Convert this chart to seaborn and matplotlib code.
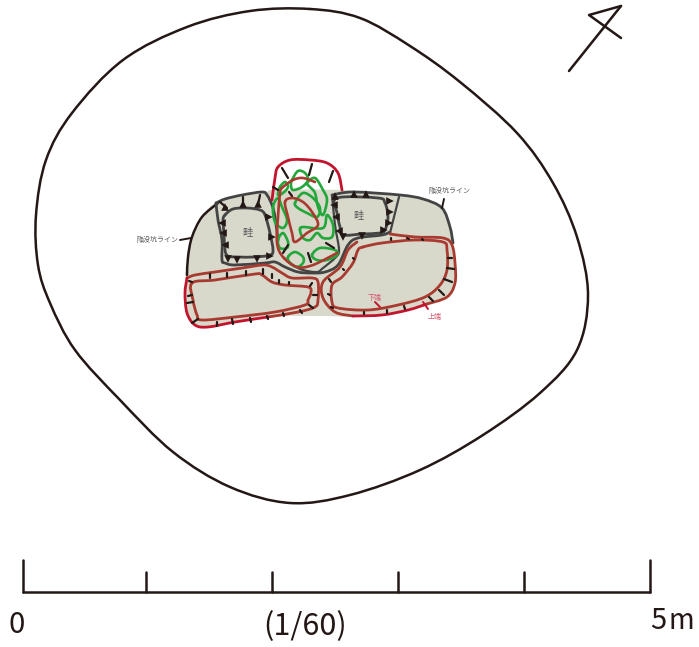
import matplotlib
matplotlib.use("Agg")
import matplotlib.pyplot as plt
from matplotlib.patches import PathPatch
from matplotlib.path import Path
import numpy as np
import pandas as pd
import seaborn as sns

sns.set_style("white")
plt.rcParams['font.family'] = ['Noto Sans CJK JP', 'DejaVu Sans']

BLACK = '#231815'
DARK = '#444444'
CRIMSON = '#c2142d'
BRICK = '#a93a30'
GREEN = '#22a83a'
FILL = '#d8d8cb'
LABEL = '#5a5a5a'
PINK = '#d4506a'

# outlines, picture pixels
outer_pit = [(310, 9), (360, 18), (410, 46), (460, 82), (517, 133), (553, 183), (577, 237), (588, 295),
             (577, 350), (540, 393), (483, 435), (420, 470), (350, 495), (290, 503), (230, 487),
             (173, 452), (120, 400), (75, 350), (50, 303), (38, 265), (36, 215), (46, 160), (72, 113), (123, 60),
             (187, 27), (250, 11)]
floor_area = [(186, 290), (186, 270), (192, 240), (205, 215), (218, 202), (265, 192), (275, 190), (342, 190),
              (400, 195), (423, 199), (442, 208), (450, 227), (455, 263), (455, 283), (447, 297), (430, 303),
              (382, 315), (358, 317), (320, 316), (268, 317), (208, 327), (195, 325), (187, 313)]
left_edge = [(218, 203), (202, 217), (192, 237), (188, 257), (187, 275)]
left_bank_outer = [(216, 203), (225, 199), (242, 195), (262, 192), (267, 195), (272, 205), (275, 217), (278, 240),
                   (283, 257), (293, 265), (303, 270), (317, 272), (323, 268), (335, 258), (339, 250), (335, 225),
                   (332, 195)]
left_bank_low = [(216, 203), (218, 220), (222, 240), (222, 260), (225, 263), (235, 265), (265, 263), (275, 262),
                 (285, 267), (298, 272), (312, 273), (325, 272), (338, 265), (348, 245), (358, 238), (382, 235),
                 (390, 232)]
left_bank_inner = [(225, 215), (233, 209), (247, 208), (260, 210), (265, 215), (270, 233), (273, 250), (270, 255),
                   (255, 257), (238, 257), (228, 256), (225, 250), (224, 233), (223, 220)]
right_bank_outer = [(332, 195), (353, 192), (400, 195), (423, 199), (442, 208), (450, 227), (453, 243)]
right_bank_inner = [(337, 198), (378, 198), (385, 203), (388, 217), (385, 230), (380, 233), (362, 234), (343, 235),
                    (340, 227), (337, 213)]
divider = [(399, 197), (394, 217), (390, 233)]

top_arc = [(272, 200), (275, 178), (278, 167), (290, 160), (310, 160), (327, 163), (338, 173), (342, 190)]
centre_red = [(315, 182), (303, 178), (293, 180), (282, 188), (280, 193), (278, 217), (277, 243), (283, 257),
              (297, 267), (313, 265), (337, 253)]
inner_red = [(285, 202), (292, 198), (303, 202), (312, 212), (318, 225), (307, 233), (295, 242), (292, 233),
             (288, 217)]

low_left_outer_top = [(187, 278), (195, 275), (215, 272), (242, 268), (263, 265), (272, 267), (282, 273), (292, 278),
                      (312, 278), (318, 282), (318, 300), (315, 307), (298, 312), (268, 317)]
low_left_outer_bot = [(268, 317), (235, 322), (208, 327), (195, 325), (187, 313), (185, 293), (187, 278)]
low_left_inner = [(192, 283), (215, 280), (255, 274), (262, 275), (272, 282), (285, 285), (308, 287), (311, 292),
                  (308, 300), (305, 305), (275, 312), (235, 317), (202, 320), (197, 315), (193, 300)]
low_right_outer_a = [(357, 242), (348, 250), (340, 267), (323, 282), (323, 298), (335, 312), (353, 316)]
low_right_outer_bot = [(353, 316), (382, 315), (408, 310), (427, 304)]
low_right_outer_b = [(427, 304), (447, 297), (455, 283), (455, 263), (452, 245), (443, 238), (415, 237), (390, 234)]
low_right_inner = [(363, 247), (382, 243), (415, 240), (443, 242), (447, 250), (447, 270), (440, 285), (425, 297),
                   (398, 305), (368, 310), (338, 308), (332, 302), (332, 285), (342, 277), (353, 263), (358, 250)]

green_loops = [
    [(292, 180), (298, 171), (305, 173), (308, 180), (302, 187), (293, 190), (291, 185)],
    [(295, 203), (303, 193), (313, 198), (320, 208), (317, 217), (307, 213), (298, 208)],
    [(300, 230), (303, 227), (323, 228), (327, 215), (333, 225), (332, 237), (323, 238), (317, 233), (310, 240),
     (303, 238)],
    [(288, 257), (295, 252), (303, 257), (303, 263), (297, 267), (290, 263)],
    [(312, 255), (320, 248), (335, 250), (337, 255), (327, 260), (317, 260)],
    [(307, 183), (315, 178), (323, 190), (327, 200), (323, 215), (318, 207), (315, 193), (310, 187)],
    [(273, 207), (278, 198), (282, 207), (287, 220), (283, 228), (275, 222)],
    [(278, 240), (283, 233), (288, 242), (287, 248), (280, 248)],
    [(280, 187), (285, 182), (288, 187), (283, 193), (278, 195)],
]

# hachure strokes
hachure = [((210, 274), (210, 278)), ((227, 273), (227, 277)), ((246, 271), (246, 275)), ((263, 269), (263, 274)),
           ((272, 274), (272, 278)), ((279, 280), (279, 283)), ((289, 282), (289, 284)), ((312, 283), (310, 286)),
           ((313, 295), (317, 295)), ((309, 305), (313, 308)), ((300, 310), (302, 313)), ((283, 313), (284, 316)),
           ((267, 316), (268, 319)), ((250, 318), (251, 322)), ((232, 319), (233, 324)), ((217, 322), (217, 326)),
           ((192, 323), (198, 319)), ((187, 303), (193, 302)), ((188, 296), (192, 295)), ((189, 281), (192, 282)),
           ((391, 238), (391, 240)), ((407, 238), (409, 239)), ((422, 239), (423, 240)), ((448, 258), (452, 258)),
           ((447, 268), (454, 269)), ((444, 279), (452, 282)), ((439, 290), (444, 295)), ((429, 297), (433, 301)),
           ((404, 306), (405, 309)), ((387, 310), (387, 313)), ((364, 312), (364, 314)), ((328, 294), (330, 295)),
           ((331, 307), (333, 308)), ((329, 279), (331, 282)), ((343, 269), (344, 270)), ((353, 258), (354, 259)),
           ((282, 168), (288, 178)), ((312, 164), (309, 175)), ((333, 171), (329, 182)), ((289, 192), (292, 196)),
           ((273, 187), (278, 190)), ((326, 243), (334, 248)), ((308, 253), (311, 262)), ((288, 245), (283, 253)),
           ((220, 202), (227, 208)), ((243, 197), (243, 205)), ((260, 195), (258, 205))]

wedge_x = [225, 243, 258, 269, 272, 270, 257, 237, 228, 225, 223, 222, 354, 366, 335, 390, 390, 389, 384, 362, 343,
           339, 336, 334]
wedge_y = [207, 204, 204, 217, 237, 256, 259, 260, 259, 245, 233, 223, 194, 194, 196, 201, 212, 223, 230, 236, 237,
           231, 217, 205]
wedge_dir = ['d', 'd', 'd', 'l', 'l', 'l', 'u', 'u', 'u', 'r', 'r', 'r', 'd', 'd', 'd', 'l', 'l', 'l', 'l', 'u', 'u',
             'r', 'r', 'r']

scale_bar_x = [23, 650]
scale_bar_y = [592, 592]
scale_ticks = [23, 146, 272, 398, 524, 650]
scale_tops = [560, 572, 572, 572, 572, 560]

north_shaft = [(569, 71), (621, 6)]
north_head = [(621, 6), (589, 15), (621, 38)]
leaders = [((180, 240), (191, 238)), ((444, 199), (442, 208))]
red_leaders = [((375, 302), (380, 307)), ((423, 302), (428, 309))]


def draw_line(ax, pts, color, lw):
    df = pd.DataFrame(list(pts), columns=['x', 'y'])
    sns.lineplot(data=df, x='x', y='y', sort=False, estimator=None, color=color, linewidth=lw, ax=ax,
                 solid_capstyle='round', solid_joinstyle='round')


def smooth_path(pts, closed):
    # bezier handles so the curve goes through every read point
    p = np.array(pts, dtype=float)
    n = len(p)
    verts = [p[0]]
    codes = [Path.MOVETO]
    for i in range(n if closed else n - 1):
        p0 = p[(i - 1) % n] if closed or i > 0 else p[i]
        p1 = p[i]
        p2 = p[(i + 1) % n]
        p3 = p[(i + 2) % n] if closed or i + 2 < n else p2
        verts += [p1 + (p2 - p0) / 6, p2 - (p3 - p1) / 6, p2]
        codes += [Path.CURVE4] * 3
    return Path(verts, codes)


def draw_curve(ax, pts, color, lw, closed=False):
    ax.add_patch(PathPatch(smooth_path(pts, closed), fill=False, edgecolor=color, linewidth=lw, capstyle='round',
                           joinstyle='round', zorder=2))


fig = plt.figure(figsize=(6.99, 6.47), dpi=100)
ax = fig.add_axes([0, 0, 1, 1])

ax.add_patch(PathPatch(smooth_path(floor_area, True), facecolor=FILL, edgecolor='none', zorder=0))
draw_curve(ax, outer_pit, BLACK, 1.8, closed=True)
draw_curve(ax, left_edge, BLACK, 1.8)
draw_curve(ax, left_bank_outer[:8], DARK, 2.0)
draw_curve(ax, left_bank_low, DARK, 2.0)
draw_curve(ax, left_bank_outer[8:], DARK, 1.6)
draw_curve(ax, left_bank_inner, DARK, 2.0, closed=True)
draw_curve(ax, right_bank_outer, DARK, 2.0)
draw_curve(ax, right_bank_inner, DARK, 2.0, closed=True)
draw_curve(ax, divider, DARK, 1.6)

for loop in green_loops:
    draw_curve(ax, loop, GREEN, 1.9, closed=True)

draw_curve(ax, top_arc, CRIMSON, 2.0)
draw_curve(ax, centre_red, BRICK, 1.9)
draw_curve(ax, inner_red, BRICK, 1.9, closed=True)
draw_curve(ax, low_left_outer_top, BRICK, 2.0)
draw_curve(ax, low_left_outer_bot, CRIMSON, 2.0)
draw_curve(ax, low_left_inner, BRICK, 2.0, closed=True)
draw_curve(ax, low_right_outer_a, BRICK, 2.0)
draw_curve(ax, low_right_outer_bot, CRIMSON, 2.0)
draw_curve(ax, low_right_outer_b, BRICK, 2.0)
draw_curve(ax, low_right_inner, BRICK, 2.0, closed=True)

for a, b in hachure:
    draw_line(ax, [a, b], BLACK, 1.6)
sns.scatterplot(x=wedge_x, y=wedge_y, style=wedge_dir, markers={'d': '^', 'u': 'v', 'l': '>', 'r': '<'},
                color=BLACK, s=30, linewidth=0, legend=False, ax=ax, zorder=4)

for a, b in leaders:
    draw_line(ax, [a, b], BLACK, 1.4)
for a, b in red_leaders:
    draw_line(ax, [a, b], CRIMSON, 1.4)

draw_line(ax, north_shaft, BLACK, 1.8)
draw_line(ax, north_head, BLACK, 1.8)

draw_line(ax, list(zip(scale_bar_x, scale_bar_y)), BLACK, 1.8)
for sx, st in zip(scale_ticks, scale_tops):
    draw_line(ax, [(sx, st), (sx, 592)], BLACK, 1.8)

ax.text(247, 233, '畦', fontsize=7.5, color=LABEL, ha='center', va='center')
ax.text(358, 216, '畦', fontsize=7.5, color=LABEL, ha='center', va='center')
ax.text(157, 240, '陥没坑ライン', fontsize=5, color=LABEL, ha='center', va='center')
ax.text(449, 191, '陥没坑ライン', fontsize=5, color=LABEL, ha='center', va='center')
ax.text(375, 298, '下端', fontsize=5, color=PINK, ha='center', va='center')
ax.text(435, 317, '上端', fontsize=5, color=PINK, ha='center', va='center')

ax.text(17, 625, '0', fontsize=21, color=BLACK, ha='center', va='center')
ax.text(305, 627, '(1/60)', fontsize=22, color=BLACK, ha='center', va='center')
ax.text(658, 621, '5', fontsize=21, color=BLACK, ha='center', va='center')
ax.text(681, 621, 'm', fontsize=20, color=BLACK, ha='center', va='center')

ax.set_xlim(0, 699)
ax.set_ylim(647, 0)
ax.axis('off')
fig.savefig('out.png', dpi=100)
